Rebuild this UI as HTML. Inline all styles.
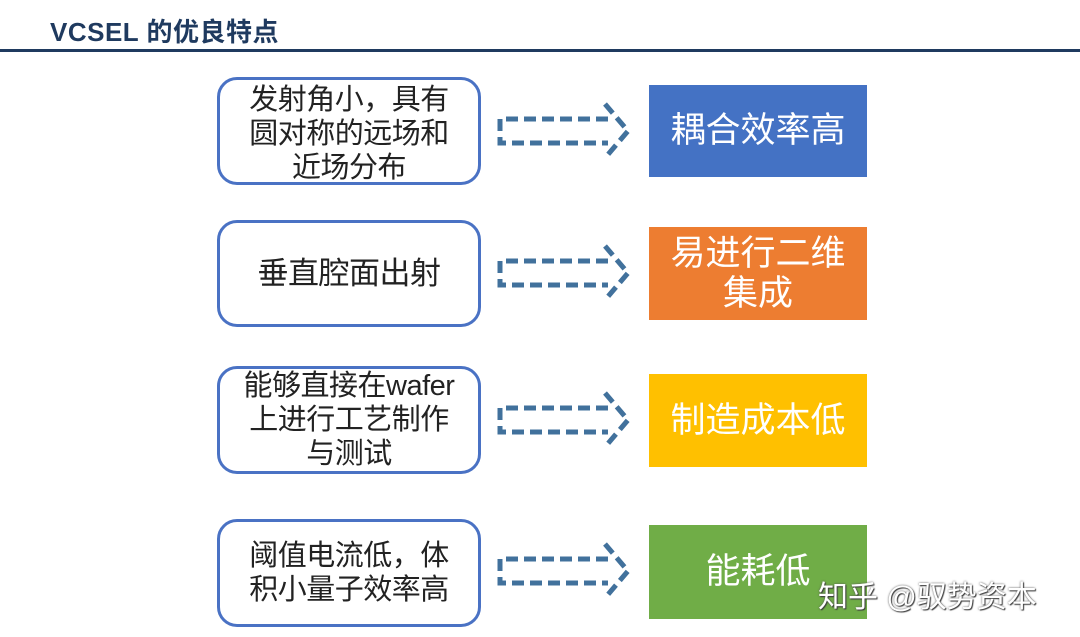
<!DOCTYPE html>
<html><head><meta charset="utf-8"><style>
body{margin:0;width:1080px;height:637px;background:#fff;position:relative;overflow:hidden;font-family:"Liberation Sans","Noto Sans CJK SC",sans-serif}
.t{position:absolute;left:50px;top:12px;font-size:26px;font-weight:bold;color:#1f3a5f;letter-spacing:0.5px}
.hl{position:absolute;left:0;top:49px;width:1080px;height:3px;background:#1f3a5f}
.l{position:absolute;left:217px;width:264px;border:3px solid #4a72c4;border-radius:20px;display:flex;align-items:center;justify-content:center;text-align:center;font-size:29px;line-height:34px;color:#222;box-sizing:border-box;letter-spacing:-0.5px}
.r{position:absolute;left:649px;width:218px;display:flex;align-items:center;justify-content:center;text-align:center;font-size:35px;line-height:40px;color:#fff}
svg{position:absolute;left:0;top:0}
.wm{position:absolute;left:818px;top:572px;font-size:30px;color:#fff;text-shadow:0 0 2px #555,1px 1px 1px #333}
</style></head><body>
<div class="t">VCSEL 的优良特点</div><div class="hl"></div>
<div class="l" style="top:77px;height:108px;padding-top:6px">发射角小，具有<br>圆对称的远场和<br>近场分布</div>
<div class="l" style="top:220px;height:107px;font-size:31px">垂直腔面出射</div>
<div class="l" style="top:366px;height:108px">能够直接在wafer<br>上进行工艺制作<br>与测试</div>
<div class="l" style="top:519px;height:108px">阈值电流低，体<br>积小量子效率高</div>
<div class="r" style="top:85px;height:92px;background:#4472c4">耦合效率高</div>
<div class="r" style="top:227px;height:93px;background:#ed7d31">易进行二维<br>集成</div>
<div class="r" style="top:374px;height:93px;background:#ffc000">制造成本低</div>
<div class="r" style="top:525px;height:94px;background:#70ad47">能耗低</div>
<svg width="1080" height="637">
<g fill="none" stroke="#41719c" stroke-width="5" stroke-dasharray="12 6">
<path d="M608 119 L500 119 L500 143 L608 143 M605 104 L628 131 L605 158"/>
<path d="M608 261 L500 261 L500 285 L608 285 M605 246 L628 273 L605 300"/>
<path d="M608 408 L500 408 L500 432 L608 432 M605 393 L628 420 L605 447"/>
<path d="M608 559 L500 559 L500 583 L608 583 M605 544 L628 571 L605 598"/>
</g></svg>
<div class="wm">知乎 @驭势资本</div>
</body></html>
